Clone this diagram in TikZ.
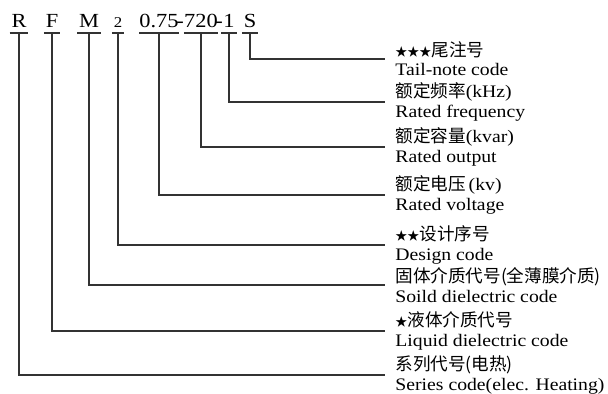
\documentclass[tikz,border=0pt]{standalone}
\usepackage{fontspec}
\setmainfont{Liberation Serif}[FakeStretch=1.12]
\newfontfamily\cjk{Noto Sans CJK SC}
\usetikzlibrary{positioning}

\begin{document}
\begin{tikzpicture}[
    x=0.5pt, y=-0.5pt,
    code/.style={anchor=south, inner xsep=0.8pt, inner ysep=2.5pt, text depth=0pt, font=\fontsize{10}{12}\selectfont},
    note/.style={anchor=west, align=left, inner xsep=5pt, inner ysep=0pt, font=\fontsize{8.8}{9.6}\selectfont},
    lead/.style={draw=black!80, line width=0.6pt}
]
    \useasboundingbox (0,0) rectangle (608,394);

    % model code
    \node[code] (r) at (19,33) {R};
    \node[code] (f) at (52,33) {F};
    \node[code] (m) at (89,33) {M};
    \node[code, font=\fontsize{7.5}{9}\selectfont] (n2) at (118,33) {2};
    \node[code, inner xsep=0pt] (volt) at (159,33) {0.75};
    \node[code, inner xsep=0pt] (d1) at (180,33) {-};
    \node[code, inner xsep=0pt] (kvar) at (201,33) {720};
    \node[code, inner xsep=0pt] (d2) at (219,33) {-};
    \node[code] (freq) at (229,33) {1};
    \node[code] (s) at (250,33) {S};
    \foreach \n in {r,f,m,n2,volt,kvar,freq,s}
        \draw[lead] (\n.south west) -- (\n.south east);

    % meanings
    \node[note] (tail) at (385,59) {{\cjk\fontsize{6}{6}\selectfont ★★★}{\cjk 尾注号}\\Tail-note code};
    \node[note] (rf) at (385,102) {{\cjk 额定频率}(kHz)\\Rated frequency};
    \node[note] (ro) at (385,147) {{\cjk 额定容量}(kvar)\\Rated output};
    \node[note] (rv) at (385,195) {{\cjk 额定电压}\,(kv)\\Rated voltage};
    \node[note] (dc) at (385,245) {{\cjk\fontsize{6}{6}\selectfont ★★}{\cjk 设计序号}\\Design code};
    \node[note] (sd) at (385,285) {{\cjk 固体介质代号(全薄膜介质)}\\Soild dielectric code};
    \node[note] (ld) at (385,331) {{\cjk\fontsize{6}{6}\selectfont ★}{\cjk 液体介质代号}\\Liquid dielectric code};
    \node[note] (sc) at (385,375) {{\cjk 系列代号(电热)}\\Series code(elec. Heating)};

    \draw[lead] (s.south) |- (tail.west);
    \draw[lead] (freq.south) |- (rf.west);
    \draw[lead] (kvar.south) |- (ro.west);
    \draw[lead] (volt.south) |- (rv.west);
    \draw[lead] (n2.south) |- (dc.west);
    \draw[lead] (m.south) |- (sd.west);
    \draw[lead] (f.south) |- (ld.west);
    \draw[lead] (r.south) |- (sc.west);
\end{tikzpicture}
\end{document}
